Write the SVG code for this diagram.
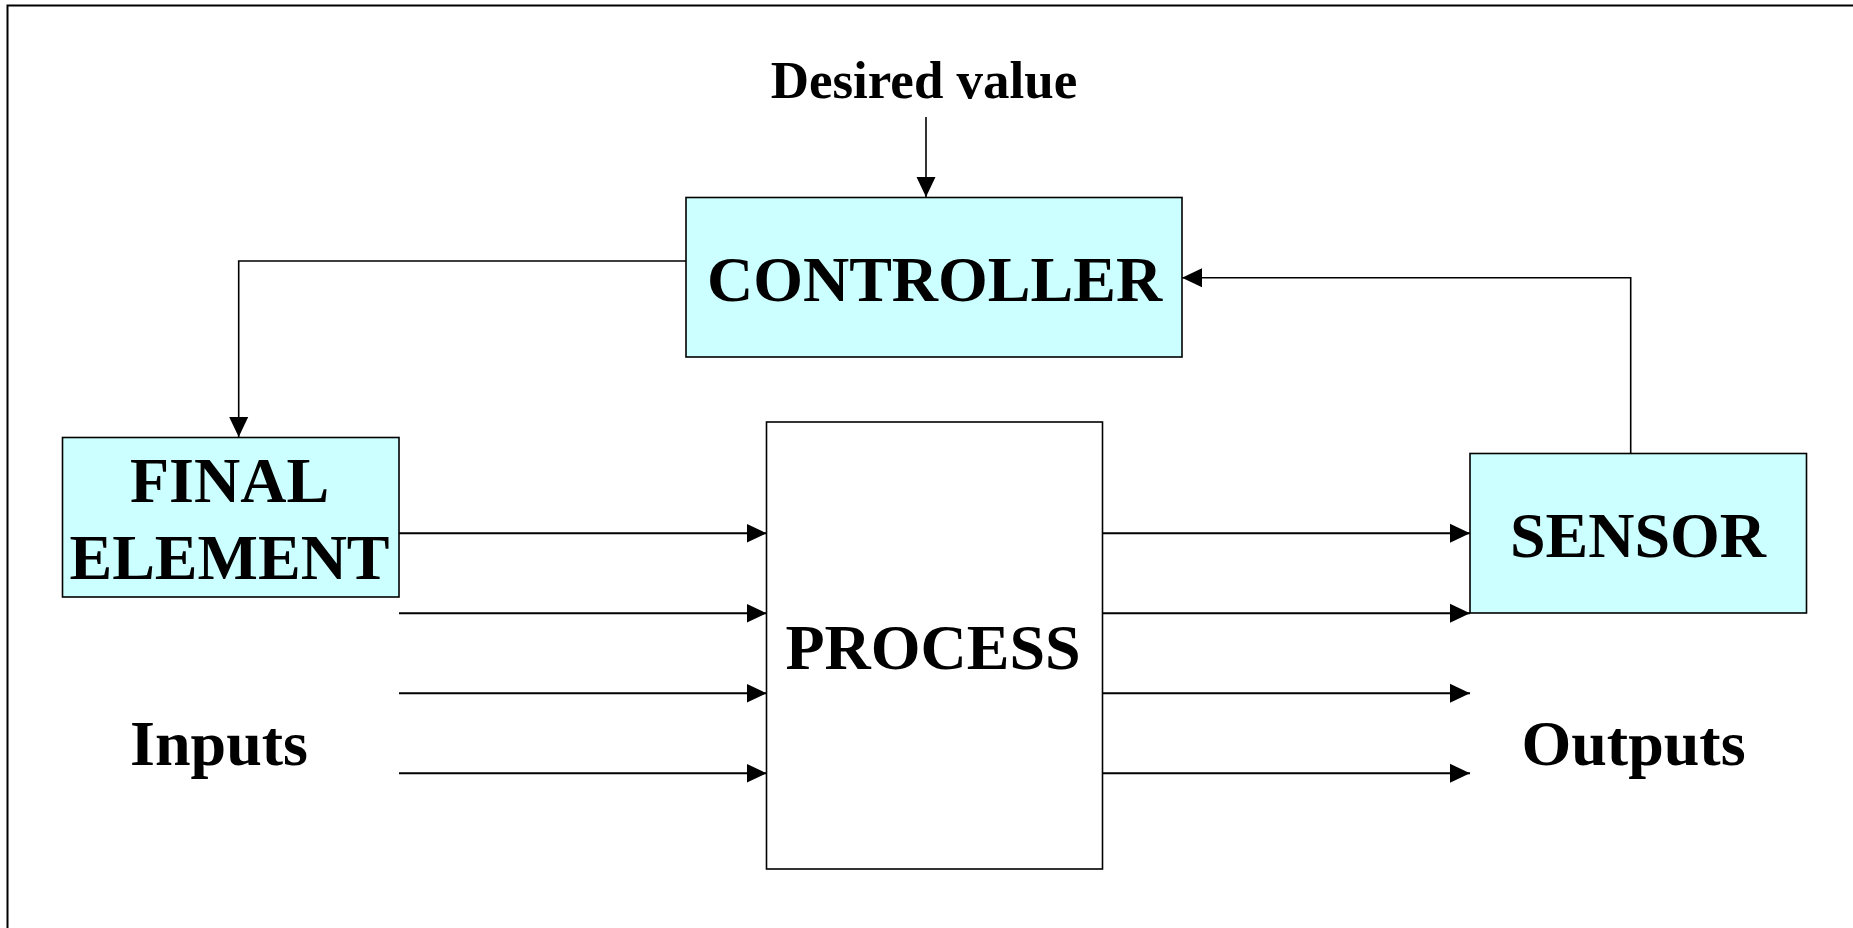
<svg xmlns="http://www.w3.org/2000/svg" width="1853" height="928" viewBox="0 0 1853 928">
<style>
.box{fill:#CCFFFF;stroke:#000;stroke-width:1.6}
.pbox{fill:#FFFFFF;stroke:#000;stroke-width:1.6}
.t{font-family:"Liberation Serif","Times New Roman",serif;font-weight:bold;fill:#000;text-anchor:middle}
.c{fill:none;stroke:#000;stroke-width:1.6}
.io{fill:none;stroke:#000;stroke-width:2}
</style>
<defs>
<marker id="ah" viewBox="0 0 20 20" refX="20" refY="10" markerWidth="20" markerHeight="20" markerUnits="userSpaceOnUse" orient="auto">
<path d="M0,0.5 L20,10 L0,19.5 z" fill="#000"/>
</marker>
</defs>
<rect x="7.5" y="5.5" width="1900" height="1000" fill="#FFFFFF" stroke="#000" stroke-width="2"/>
<g id="desired-value">
<text class="t" x="924" y="98" font-size="53">Desired value</text>
</g>
<g id="controller">
<rect class="box" x="686" y="197.5" width="496" height="159.5"/>
<text class="t" x="934.5" y="301" font-size="64">CONTROLLER</text>
</g>
<g id="final-element">
<rect class="box" x="62.5" y="437.5" width="336.5" height="159.5"/>
<text class="t" x="229.5" y="501.5" font-size="64">FINAL</text>
<text class="t" x="229.5" y="578.5" font-size="64">ELEMENT</text>
</g>
<g id="process">
<rect class="pbox" x="766.5" y="422" width="336" height="447"/>
<text class="t" x="933" y="668.5" font-size="64">PROCESS</text>
</g>
<g id="sensor">
<rect class="box" x="1470" y="453.5" width="336.5" height="159.5"/>
<text class="t" x="1638" y="556.5" font-size="64">SENSOR</text>
</g>
<g id="inputs">
<text class="t" x="219" y="765" font-size="64">Inputs</text>
</g>
<g id="outputs">
<text class="t" x="1633.5" y="765" font-size="64">Outputs</text>
</g>
<g id="connectors">
<path class="c" d="M926,117 L926,197" marker-end="url(#ah)"/>
<path class="c" d="M686,261 L238.7,261 L238.7,437" marker-end="url(#ah)"/>
<path class="c" d="M1630.7,453.5 L1630.7,277.7 L1182,277.7" marker-end="url(#ah)"/>
<path class="io" d="M399,533.3 L766.5,533.3" marker-end="url(#ah)"/>
<path class="io" d="M399,613.3 L766.5,613.3" marker-end="url(#ah)"/>
<path class="io" d="M399,693.3 L766.5,693.3" marker-end="url(#ah)"/>
<path class="io" d="M399,773.3 L766.5,773.3" marker-end="url(#ah)"/>
<path class="io" d="M1102.5,533.3 L1470,533.3" marker-end="url(#ah)"/>
<path class="io" d="M1102.5,613.3 L1470,613.3" marker-end="url(#ah)"/>
<path class="io" d="M1102.5,693.3 L1470,693.3" marker-end="url(#ah)"/>
<path class="io" d="M1102.5,773.3 L1470,773.3" marker-end="url(#ah)"/>
</g>
</svg>
